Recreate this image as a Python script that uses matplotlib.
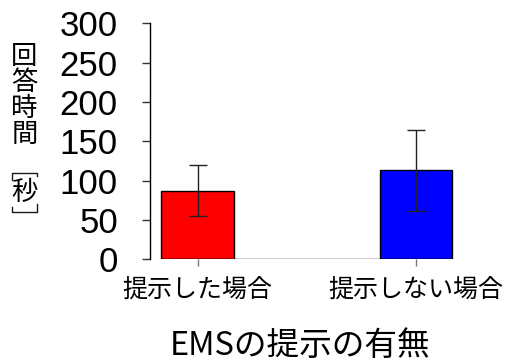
import matplotlib
matplotlib.use("Agg")
import matplotlib.pyplot as plt
from matplotlib.lines import Line2D
import numpy as np

# Mean response time and standard deviation for each condition
conditions = ["提示した場合", "提示しない場合"]
means = [87.5, 113.0]
sds = [32.0, 51.5]
colors = ["#ff0000", "#0000ff"]
yticks = [0, 50, 100, 150, 200, 250, 300]

W, H = 509, 360
fig = plt.figure(figsize=(W / 100, H / 100), dpi=100)

def fx(px):
    return px / W

def fy(py):
    return 1 - py / H

# Axes placement (pixel based)
left, right = 149.5, 480.0
top, bottom = 23.5, 259.3
ax = fig.add_axes([fx(left), fy(bottom), fx(right) - fx(left), fy(top) - fy(bottom)])

x = np.arange(len(conditions))
width = 0.334
ax.bar(x, means, width=width, color=colors, edgecolor="black", linewidth=1.0, zorder=2)
ax.errorbar(x, means, yerr=sds, fmt="none", ecolor="#222222", elinewidth=1.0,
            capsize=6.5, capthick=1.0, zorder=3)
ax.hlines(0, x[0] - width / 2, x[-1] + width / 2, color="black", linewidth=1.0, zorder=4)

px_per_unit = 218.5
ax.set_xlim(-(197.5 - left) / px_per_unit, 1 + (right - 416.0) / px_per_unit)
ax.set_ylim(0, 300)

for s in ["top", "right", "bottom"]:
    ax.spines[s].set_visible(False)
ax.spines["left"].set_linewidth(1.0)
ax.spines["left"].set_bounds(0, 300)

ax.set_yticks(yticks)
ax.set_yticklabels([str(v) for v in yticks], fontfamily="Liberation Sans", fontsize=25)
ax.tick_params(axis="y", length=5.8, width=1.0, pad=17, color="#333333")

ax.set_xticks(x)
ax.set_xticklabels(conditions, fontfamily="Noto Sans CJK JP", fontsize=18)
ax.tick_params(axis="x", length=5, width=1.0, color="#777777", pad=8)

# X axis title
fig.text(fx(300.5), fy(345.5), "EMSの提示の有無", ha="center", va="center",
         fontsize=23.5, family=["Noto Sans CJK JP"])

# Vertical Y axis title, one character per row
ylabel_chars = ["回", "答", "時", "間"]
cx = 24.5
for i, ch in enumerate(ylabel_chars):
    fig.text(fx(cx), fy(57 + i * 25.8), ch, ha="center", va="center",
             fontsize=19, family=["Noto Sans CJK JP"])
fig.text(fx(cx), fy(192), "秒", ha="center", va="center",
         fontsize=19, family=["Noto Sans CJK JP"])

# Vertical-form square brackets around the unit
bracket_kw = dict(color="#1a1a1a", linewidth=1.0, transform=fig.transFigure)
fig.add_artist(Line2D([fx(12.3), fx(12.3), fx(37.0), fx(37.0)],
                      [fy(180), fy(172.5), fy(172.5), fy(176)], **bracket_kw))
fig.add_artist(Line2D([fx(12.3), fx(12.3), fx(37.0), fx(37.0)],
                      [fy(207), fy(211.5), fy(211.5), fy(204)], **bracket_kw))

fig.savefig("out.png", dpi=100)
